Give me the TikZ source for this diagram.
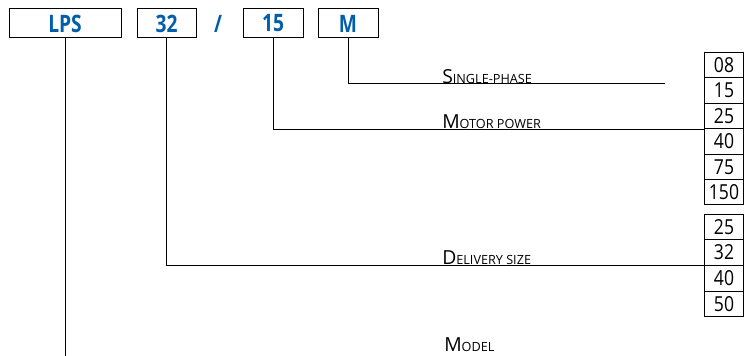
\documentclass[tikz,border=0pt]{standalone}
\usepackage{fontspec}
\setmainfont{Open Sans}
\newfontfamily\codefont[FakeStretch=0.8]{Open Sans}
\newfontfamily\valfont[FakeStretch=0.85]{Open Sans}
\usetikzlibrary{positioning}
\definecolor{codeblue}{RGB}{0,94,170}
\newcommand{\capsc}[2]{{\fontsize{14.5}{16}\selectfont #1}{\fontsize{9.5}{11}\selectfont #2}}

\tikzset{
  codebox/.style={draw, line width=0.75pt, fill=white, minimum height=21.75pt, inner sep=0pt,
    font=\codefont\bfseries\fontsize{18}{20}\selectfont, text=codeblue},
  valbox/.style={draw, line width=0.6pt, minimum width=28.9pt, minimum height=19.05pt, inner sep=0pt,
    font=\valfont\fontsize{15.5}{16}\selectfont},
  lead/.style={line width=0.75pt},
  tag/.style={anchor=base west, inner sep=0pt}
}

\begin{document}
\begin{tikzpicture}[x=0.75pt,y=0.75pt,yscale=-1,xscale=1]
\useasboundingbox (0,0) rectangle (744,356);

% Code boxes
\node[codebox, minimum width=84pt] (lps) at (65,23.5) {LPS};
\node[codebox, minimum width=44.25pt] (size) at (166.5,23.5) {32};
\node[inner sep=0pt, text=codeblue, font=\codefont\bfseries\fontsize{18}{20}\selectfont] (slash) at (218,23.5) {/};
\node[codebox, minimum width=45pt] (power) at (273,23.5) {15};
\node[codebox, minimum width=45pt] (phase) at (348,23.5) {M};

% Value boxes
\foreach \v [count=\i] in {08,15,25,40,75,150}
  \node[valbox] (pw\i) at (724,52.5+25.4*\i-12.7) {\v};
\foreach \v [count=\i] in {25,32,40,50}
  \node[valbox] (ds\i) at (724,214+25.7*\i-12.85) {\v};

% Leader lines
\coordinate (phend) at (665,84);
\coordinate (lpsend) at (65,360);
\draw[lead] (phase.south) |- (phend);
\draw[lead] (power.south) |- (pw3.south west);
\draw[lead] (size.south) |- (ds2.south west);
\draw[lead] (lps.south) -- (lpsend);

% Text Node
\node[tag] (phlabel) at (442,83.5) {\capsc{S}{INGLE-PHASE}};
% Text Node
\node[tag] (pwlabel) at (442,128.5) {\capsc{M}{OTOR POWER}};
% Text Node
\node[tag] (dslabel) at (442,265) {\capsc{D}{ELIVERY SIZE}};
% Text Node
\node[tag] (mdlabel) at (444,352) {\capsc{M}{ODEL}};

\end{tikzpicture}
\end{document}
